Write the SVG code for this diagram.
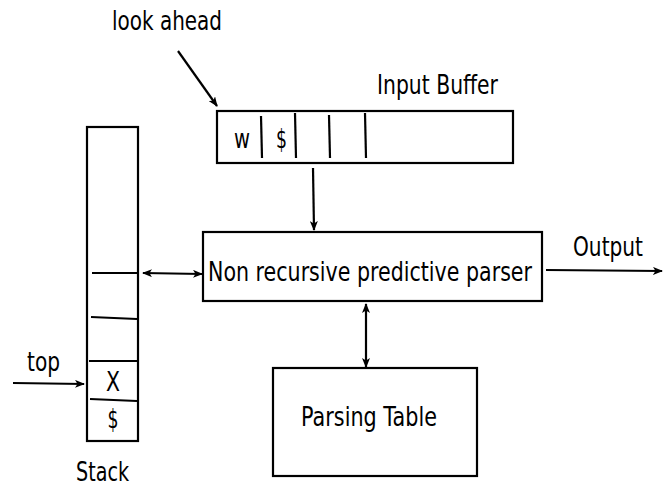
<svg xmlns="http://www.w3.org/2000/svg" width="668" height="487" viewBox="0 0 668 487">
  <style>
    .box { fill: none; stroke: #000; stroke-width: 2.2; }
    .div { stroke: #000; stroke-width: 2.2; fill: none; }
    .wire { stroke: #000; stroke-width: 2.2; fill: none; }
    text { font-family: "DejaVu Sans", "Liberation Sans", sans-serif; font-size: 27px; fill: #000; }
  </style>
  <defs>
    <marker id="arrow" viewBox="0 0 10 8" refX="9" refY="4" markerWidth="10" markerHeight="8" markerUnits="userSpaceOnUse" orient="auto-start-reverse">
      <path d="M0,0 L10,4 L0,8 L2.5,4 z" fill="#000"/>
    </marker>
  </defs>
  <rect width="668" height="487" fill="#fff"/>

  <g id="input-buffer">
    <rect class="box" x="217" y="111" width="296" height="52"/>
    <line class="div" x1="261" y1="116" x2="262" y2="158"/>
    <line class="div" x1="295" y1="113" x2="296" y2="158"/>
    <line class="div" x1="329" y1="115" x2="330" y2="158"/>
    <line class="div" x1="365" y1="113" x2="366" y2="158"/>
    <text x="234" y="148" textLength="16" lengthAdjust="spacingAndGlyphs">w</text>
    <text x="276" y="148" textLength="11" lengthAdjust="spacingAndGlyphs">$</text>
    <text x="377" y="94" textLength="121" lengthAdjust="spacingAndGlyphs">Input Buffer</text>
  </g>

  <g id="look-ahead">
    <text x="112" y="30" textLength="110" lengthAdjust="spacingAndGlyphs">look ahead</text>
  </g>

  <g id="stack">
    <rect class="box" x="87" y="127" width="51" height="314"/>
    <line class="div" x1="92" y1="273" x2="137" y2="273"/>
    <line class="div" x1="91" y1="317" x2="137" y2="319"/>
    <line class="div" x1="89" y1="361" x2="137" y2="361"/>
    <line class="div" x1="90" y1="399" x2="137" y2="401"/>
    <text x="113" y="391" text-anchor="middle" textLength="14" lengthAdjust="spacingAndGlyphs">X</text>
    <text x="113" y="428" text-anchor="middle" textLength="11" lengthAdjust="spacingAndGlyphs">$</text>
    <text x="76" y="481" textLength="53" lengthAdjust="spacingAndGlyphs">Stack</text>
  </g>

  <g id="top-label">
    <text x="27" y="371" textLength="33" lengthAdjust="spacingAndGlyphs">top</text>
  </g>

  <g id="parser">
    <rect class="box" x="203" y="232" width="339" height="69"/>
    <!-- condensed horizontally so the label fits the box -->
    <text transform="translate(208,281) scale(0.763,1)" x="0" y="0">Non recursive predictive parser</text>
  </g>

  <g id="output-label">
    <text x="573" y="256" textLength="70" lengthAdjust="spacingAndGlyphs">Output</text>
  </g>

  <g id="parsing-table">
    <rect class="box" x="273" y="368" width="204" height="108"/>
    <text x="301" y="426" textLength="136" lengthAdjust="spacingAndGlyphs">Parsing Table</text>
  </g>

  <g id="connectors">
    <!-- look ahead pointer into the first buffer cell -->
    <line class="wire" x1="178" y1="51" x2="217" y2="106" marker-end="url(#arrow)"/>
    <!-- input buffer feeds the parser -->
    <line class="wire" x1="313" y1="168" x2="314" y2="230" marker-end="url(#arrow)"/>
    <!-- stack <-> parser -->
    <line class="wire" x1="143" y1="273" x2="202" y2="274" marker-start="url(#arrow)" marker-end="url(#arrow)"/>
    <!-- parser <-> parsing table -->
    <line class="wire" x1="366" y1="304" x2="366" y2="367" marker-start="url(#arrow)" marker-end="url(#arrow)"/>
    <!-- parser output -->
    <line class="wire" x1="546" y1="270" x2="662" y2="271" marker-end="url(#arrow)"/>
    <!-- top of stack pointer -->
    <line class="wire" x1="13" y1="383" x2="84" y2="384" marker-end="url(#arrow)"/>
  </g>
</svg>
